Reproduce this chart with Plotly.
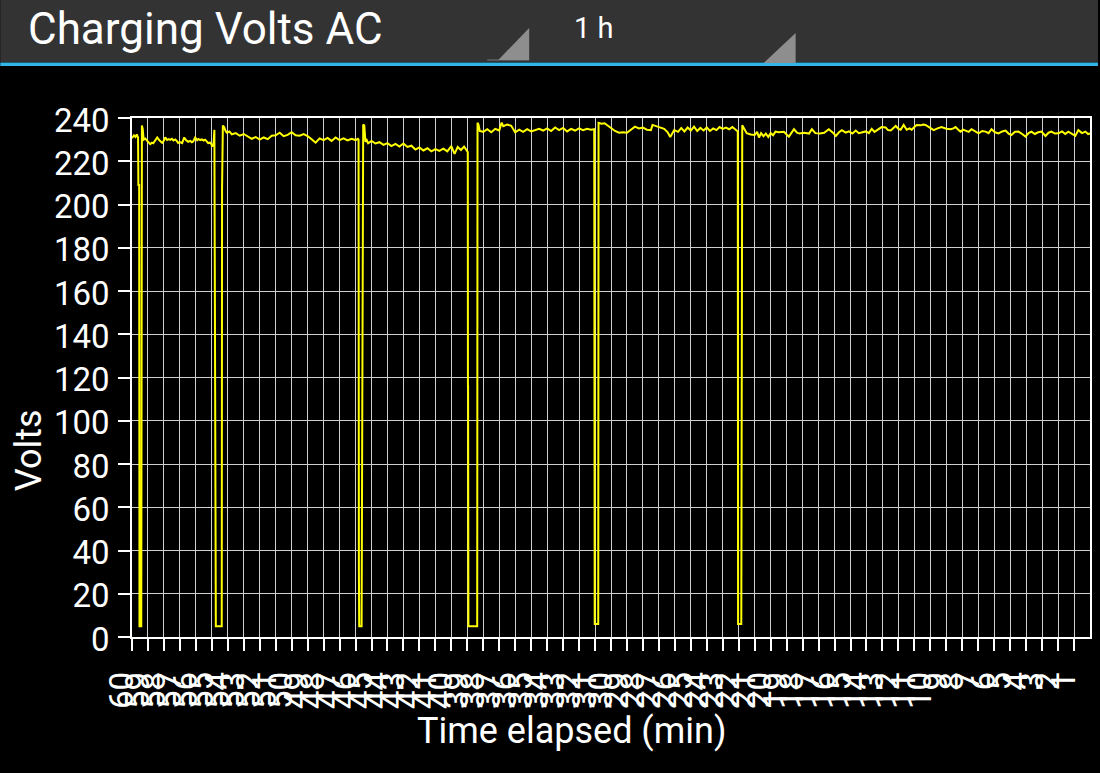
import plotly.graph_objects as go

# 1. Data: minutes elapsed (60 = an hour ago, 0 = now) and AC charging volts
minutes_ago = [
    # start, first dropout
    60.00, 59.88, 59.78, 59.70, 59.62, 59.60, 59.55, 59.53, 59.42, 59.38, 59.33, 59.27,
    # ~230 V plateau
    59.17, 59.05, 58.95, 58.86, 58.75, 58.67, 58.55, 58.42, 58.30, 58.20,
    58.11, 58.00, 57.92, 57.80, 57.70, 57.61, 57.50, 57.40, 57.29, 57.20,
    57.11, 57.00, 56.86, 56.78, 56.73, 56.62, 56.48, 56.35, 56.25, 56.17,
    56.04, 55.92, 55.84, 55.73, 55.62, 55.52, 55.42, 55.32, 55.23, 55.11,
    55.02, 54.98, 54.89,
    # second dropout
    54.84, 54.81, 54.75, 54.38, 54.36, 54.31, 54.23, 54.14, 54.05,
    53.90, 53.75, 53.50, 53.25, 53.00, 52.75, 52.50, 52.25, 52.00, 51.75,
    51.50, 51.25, 51.00, 50.75, 50.50, 50.25, 50.00, 49.75, 49.50, 49.25,
    49.00, 48.75, 48.50, 48.25, 48.00, 47.75, 47.50, 47.25, 47.00, 46.75,
    46.50, 46.25, 46.00, 45.85,
    # third dropout
    45.81, 45.79, 45.77, 45.62, 45.59, 45.55, 45.52, 45.45, 45.38, 45.30, 45.21,
    45.00, 44.75, 44.50, 44.25, 44.00, 43.75, 43.50, 43.25, 43.00, 42.75,
    42.50, 42.25, 42.00, 41.75, 41.50, 41.25, 41.00, 40.75, 40.50, 40.25,
    40.00, 39.80, 39.60, 39.40, 39.20, 39.05, 38.97,
    # fourth dropout
    38.96, 38.95, 38.93, 38.38, 38.36, 38.30, 38.22,
    38.00, 37.75, 37.50, 37.25, 37.00, 36.85, 36.75, 36.50, 36.25, 36.00,
    35.75, 35.50, 35.25, 35.00, 34.75, 34.50, 34.25, 34.00, 33.75, 33.50,
    33.25, 33.00, 32.75, 32.50, 32.25, 32.00, 31.75, 31.50, 31.25, 31.05,
    # fifth dropout
    31.02, 30.80, 30.78, 30.60, 30.40, 30.25,
    30.00, 29.75, 29.50, 29.25, 29.00, 28.75, 28.50, 28.25, 28.00, 27.75,
    27.50, 27.40, 27.10, 26.90, 26.67, 26.45, 26.29, 26.04, 25.80, 25.60,
    25.40, 25.20, 25.00, 24.80, 24.60, 24.40, 24.20, 24.00, 23.80, 23.60,
    23.40, 23.20, 23.00, 22.80, 22.60, 22.40, 22.20, 22.06,
    # sixth dropout
    22.04, 21.84, 21.78, 21.65, 21.50, 21.25,
    21.00, 20.85, 20.73, 20.60, 20.45, 20.30, 20.15, 20.00, 19.85, 19.70,
    19.50, 19.17, 18.86, 18.54, 18.35, 18.20, 17.90, 17.60, 17.42, 17.20,
    16.90, 16.65, 16.36, 16.10, 15.92, 15.72, 15.54, 15.30, 15.10, 14.88,
    14.67, 14.48, 14.25, 14.04, 13.85, 13.67, 13.50, 13.36, 13.20, 13.05,
    12.80, 12.65, 12.48, 12.30, 12.17, 12.00, 11.86, 11.67, 11.48, 11.30,
    11.17, 11.00, 10.86, 10.60, 10.45, 10.30, 10.11, 9.95, 9.79, 9.55,
    9.30, 9.00, 8.73, 8.55, 8.42, 8.25, 8.11, 7.95, 7.80, 7.60,
    7.42, 7.20, 6.98, 6.75, 6.54, 6.35, 6.17, 5.95, 5.73, 5.50,
    5.29, 5.10, 4.92, 4.70, 4.48, 4.25, 4.04, 3.85, 3.67, 3.45,
    3.25, 3.04, 2.90, 2.79, 2.60, 2.42, 2.20, 1.98, 1.75, 1.55,
    1.36, 1.15, 0.92, 0.73, 0.50, 0.29, 0.12, 0.00,
]

volts = [
    230.6, 232.0, 231.2, 232.4, 231.0, 209.0, 209.0, 5.0, 5.0, 236.5, 235.0, 230.0,
    230.5, 229.5, 228.2, 227.9, 228.6, 228.3, 229.6, 231.0, 229.8, 229.2,
    228.5, 229.6, 231.0, 229.8, 230.2, 229.9, 230.4, 229.6, 230.1, 229.4,
    228.5, 228.9, 228.4, 230.0, 231.0, 229.8, 229.0, 229.4, 228.8, 229.1,
    231.0, 229.7, 230.3, 229.8, 230.1, 229.6, 230.0, 229.2, 228.4, 228.6,
    227.8, 226.7, 228.4,
    234.5, 101.0, 5.0, 5.0, 207.0, 236.5, 235.8, 234.0, 233.2,
    233.8, 232.4, 233.0, 231.8, 232.6, 231.6, 230.4, 231.2, 230.0, 231.0,
    230.2, 231.8, 232.0, 233.2, 231.6, 232.2, 233.4, 232.0, 231.8, 232.6,
    231.6, 230.2, 228.6, 230.6, 229.8, 230.8, 229.4, 231.0, 229.8, 230.6,
    229.6, 230.4, 229.8, 230.4,
    230.0, 31.0, 5.0, 5.0, 124.0, 124.0, 237.0, 236.5, 229.0, 229.8, 228.3,
    229.4, 228.2, 228.8, 227.6, 228.4, 227.0, 228.0, 226.8, 228.2, 226.6,
    227.2, 225.4, 226.4, 225.0, 226.0, 224.6, 225.6, 224.8, 225.8, 224.6,
    227.0, 223.4, 226.6, 225.2, 226.8, 225.0, 224.2,
    116.0, 116.0, 5.0, 5.0, 237.8, 237.0, 234.0,
    233.6, 234.8, 233.4, 235.0, 234.2, 237.9, 236.2, 237.0, 236.4, 233.4,
    234.6, 233.6, 234.8, 233.8, 234.4, 235.0, 234.2, 235.2, 234.0, 235.6,
    234.4, 235.4, 233.8, 235.0, 234.2, 235.2, 234.4, 235.0, 234.6, 234.8,
    6.0, 6.0, 237.8, 237.4, 237.6, 236.8,
    235.4, 234.0, 233.2, 233.4, 233.2, 234.6, 236.0, 235.2, 235.6, 234.6,
    234.4, 236.8, 236.0, 235.6, 235.0, 233.4, 231.2, 234.4, 233.6, 235.4,
    233.8, 235.6, 234.2, 236.0, 234.0, 235.4, 234.2, 235.6, 234.0, 235.2,
    234.4, 235.8, 235.0, 235.6, 234.8, 235.8, 234.6, 233.8,
    6.0, 6.0, 236.7, 234.6, 233.0, 232.4,
    232.2, 233.6, 231.0, 233.0, 231.6, 232.8, 231.2, 233.0, 232.0, 233.7,
    233.4, 233.6, 231.4, 234.8, 233.2, 232.8, 233.2, 232.8, 234.8, 233.0,
    232.8, 233.2, 234.8, 233.2, 231.7, 233.4, 234.4, 233.2, 233.8, 232.8,
    234.2, 233.0, 233.6, 233.8, 233.0, 235.0, 233.6, 234.2, 235.2, 235.8,
    235.6, 234.4, 234.2, 235.2, 236.3, 235.0, 234.6, 236.8, 234.6, 235.2,
    234.6, 235.8, 236.8, 236.6, 237.0, 236.8, 235.8, 235.2, 234.4, 235.2,
    235.8, 235.0, 234.8, 235.2, 235.8, 234.6, 233.7, 234.6, 234.2, 233.6,
    234.8, 233.8, 232.9, 234.0, 233.7, 233.0, 234.8, 233.4, 232.9, 233.8,
    234.2, 232.8, 232.1, 233.6, 233.7, 232.6, 231.4, 233.0, 233.7, 232.6,
    233.4, 233.7, 232.8, 231.7, 233.2, 233.7, 232.8, 232.9, 233.8, 232.6,
    233.7, 232.8, 231.7, 234.4, 233.0, 233.7, 232.6, 232.9,
]
assert len(minutes_ago) == len(volts)

tick_minutes = list(range(60, 0, -1))
tick_labels = [str(m) for m in tick_minutes]
volt_ticks = list(range(0, 241, 20))

# 2. Page geometry (pixels) -> paper coords for the header decorations
W, H = 1100, 773
L, R, T, B = 132, 8, 118, 136


def xp(px):
    return (px - L) / (W - L - R)


def yp(py):
    return (H - B - py) / (H - T - B)


FONT = "Roboto"

fig = go.Figure(go.Scatter(
    x=minutes_ago, y=volts, mode="lines",
    line=dict(color="#ffff00", width=2),
    hoverinfo="x+y", showlegend=False,
))

axis_common = dict(
    showgrid=True, gridcolor="#cfcfcf", gridwidth=1,
    showline=True, linecolor="#ffffff", linewidth=1.5, mirror=True,
    ticks="outside", ticklen=12, tickcolor="#ffffff", tickwidth=1.5,
    tickfont=dict(family=FONT, size=33, color="#ffffff"),
    zeroline=False,
)

fig.update_xaxes(
    range=[60, 0], tickmode="array", tickvals=tick_minutes, ticktext=tick_labels,
    tickangle=-90, ticklabelstandoff=8, ticklabelshift=10, **axis_common,
)
fig.update_yaxes(
    range=[0, 240], tickmode="array", tickvals=volt_ticks,
    ticklabelstandoff=2, ticklabelshift=2, **axis_common,
)

# header bar, holo-blue underline, spinner corners
shapes = [
    dict(type="rect", x0=xp(0), x1=xp(W), y0=yp(62), y1=yp(0),
         fillcolor="#333333", line_width=0),
    dict(type="rect", x0=xp(0), x1=xp(W), y0=yp(66), y1=yp(62.5),
         fillcolor="#33b5e5", line_width=0),
    dict(type="rect", x0=xp(488), x1=xp(530), y0=yp(61), y1=yp(59),
         fillcolor="#555555", line_width=0),
    dict(type="path", line_width=0, fillcolor="#8e8e8e",
         path=f"M {xp(499)},{yp(60)} L {xp(530)},{yp(60)} L {xp(530)},{yp(28)} Z"),
    dict(type="path", line_width=0, fillcolor="#8e8e8e",
         path=f"M {xp(765)},{yp(63)} L {xp(797)},{yp(63)} L {xp(797)},{yp(33)} Z"),
]
for s in shapes:
    s.update(xref="paper", yref="paper", layer="above")

annotations = [
    dict(text="Charging Volts AC", x=xp(26), y=yp(29), xanchor="left", yanchor="middle",
         font=dict(family=FONT, size=44, color="#ffffff")),
    dict(text="1 h", x=xp(573), y=yp(28), xanchor="left", yanchor="middle",
         font=dict(family=FONT, size=29, color="#ffffff")),
    dict(text="Volts", x=xp(29), y=yp(450), xanchor="center", yanchor="middle",
         textangle=-90, font=dict(family=FONT, size=36, color="#ffffff")),
    dict(text="Time elapsed (min)", x=xp(572), y=yp(731), xanchor="center", yanchor="middle",
         font=dict(family=FONT, size=36, color="#ffffff")),
]
for a in annotations:
    a.update(xref="paper", yref="paper", showarrow=False)

fig.update_layout(
    width=W, height=H,
    margin=dict(l=L, r=R, t=T, b=B, pad=0),
    paper_bgcolor="#000000", plot_bgcolor="#000000",
    shapes=shapes, annotations=annotations,
    font=dict(family=FONT, color="#ffffff"),
)

# page body margin off so the chart sits at the window origin
fig.write_html(
    "out.html",
    config={"displayModeBar": False},
    post_script="document.body.style.margin='0';",
)
